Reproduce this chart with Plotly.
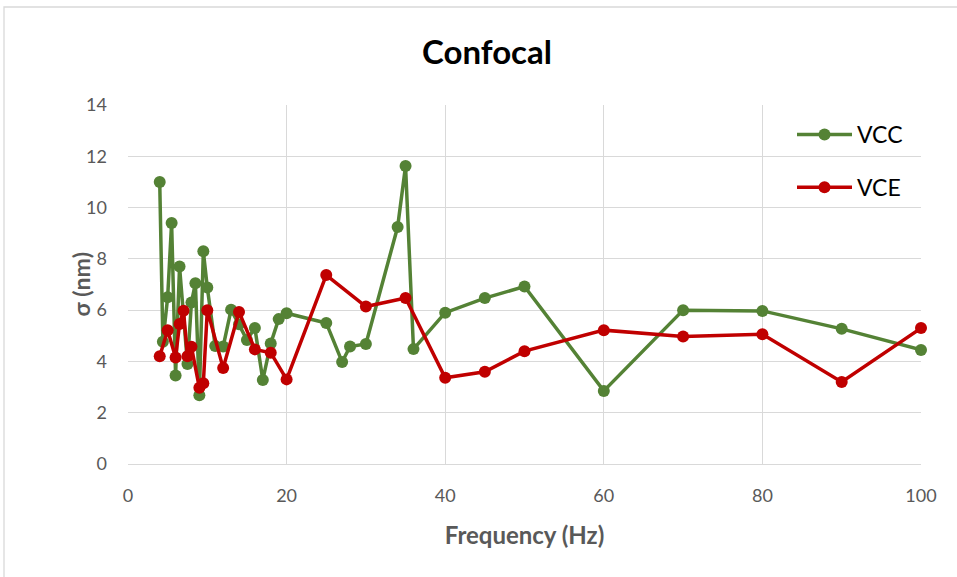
import plotly.graph_objects as go

# Frequency sweep (Hz) and measured sigma (nm) for each configuration
vcc_freq = [4, 4.4, 5, 5.5, 6, 6.5, 7.5, 8, 8.5, 9, 9.5, 10, 11, 12, 13, 14, 15,
            16, 17, 18, 19, 20, 25, 27, 28, 30, 34, 35, 36, 40, 45, 50, 60, 70,
            80, 90, 100]
vcc_sigma = [11.0, 4.77, 6.5, 9.4, 3.45, 7.7, 3.9, 6.3, 7.05, 2.68, 8.3, 6.88,
             4.6, 4.58, 6.02, 5.45, 4.84, 5.3, 3.28, 4.7, 5.65, 5.88, 5.5, 3.98,
             4.58, 4.68, 9.24, 11.62, 4.48, 5.9, 6.47, 6.92, 2.85, 6.0, 5.97,
             5.27, 4.45]

vce_freq = [4, 5, 6, 6.5, 7, 7.5, 8, 9, 9.5, 10, 12, 14, 16, 18, 20, 25, 30, 35,
            40, 45, 50, 60, 70, 80, 90, 100]
vce_sigma = [4.2, 5.22, 4.15, 5.46, 5.98, 4.2, 4.57, 2.97, 3.15, 6.0, 3.74, 5.93,
             4.47, 4.34, 3.3, 7.37, 6.14, 6.47, 3.36, 3.6, 4.4, 5.22, 4.97, 5.06,
             3.2, 5.3]

x_ticks = [0, 20, 40, 60, 80, 100]
y_ticks = [0, 2, 4, 6, 8, 10, 12, 14]

GREEN = "#548235"
RED = "#C00000"
GRID = "#D9D9D9"
TXT = "#595959"
FONT = "Lato"

fig = go.Figure()
fig.add_trace(go.Scatter(
    x=vcc_freq, y=vcc_sigma, name="VCC", mode="lines+markers",
    line=dict(color=GREEN, width=3.5),
    marker=dict(color=GREEN, size=12),
    legendgroup="a", cliponaxis=False,
))
fig.add_trace(go.Scatter(
    x=vce_freq, y=vce_sigma, name="VCE", mode="lines+markers",
    line=dict(color=RED, width=3.5),
    marker=dict(color=RED, size=12),
    legendgroup="b", cliponaxis=False,
))

W, H = 957, 577
L, R, T, B = 128, 36, 105, 113
pw = W - L - R
ph = H - T - B

fig.update_layout(
    width=W, height=H,
    margin=dict(l=L, r=R, t=T, b=B),
    paper_bgcolor="white", plot_bgcolor="white",
    font=dict(family=FONT, color=TXT, size=17),
    title=dict(text="<b>Confocal</b>", x=487 / W, xanchor="center",
               y=1 - 52 / H, yanchor="middle",
               font=dict(family=FONT, size=33, color="black")),
    xaxis=dict(range=[0, 100], tickvals=x_ticks, showgrid=True, gridcolor=GRID,
               gridwidth=1.3, zeroline=False, showline=True, linecolor=GRID,
               linewidth=1.3, ticks="", ticklabelstandoff=15,
               tickfont=dict(size=18, color=TXT),
               title=dict(text="<b>Frequency (Hz)</b>", standoff=22,
                          font=dict(size=24, color=TXT))),
    yaxis=dict(range=[0, 14], tickvals=y_ticks, showgrid=True, gridcolor=GRID,
               gridwidth=1.3, zeroline=False, ticks="", ticklabelstandoff=20,
               tickfont=dict(size=18, color=TXT)),
    legend=dict(x=(792 - L) / pw, y=(H - B - 113) / ph, xanchor="left",
                yanchor="top", bgcolor="rgba(0,0,0,0)",
                traceorder="grouped", tracegroupgap=20, itemwidth=55,
                font=dict(size=23, color="black", family=FONT)),
    showlegend=True,
)

# vertical axis title
fig.add_annotation(text="<b>σ (nm)</b>", textangle=-90, showarrow=False,
                   xref="paper", yref="paper", x=(80 - L) / pw, y=0.5,
                   xanchor="center", yanchor="middle",
                   font=dict(size=23, color=TXT, family=FONT))

# outer chart frame
fig.add_shape(type="rect", xref="paper", yref="paper",
              x0=(4 - L) / pw, x1=(W + 20 - L) / pw,
              y0=(H - B - (H + 20)) / ph, y1=(H - B - 7) / ph,
              line=dict(color=GRID, width=1.3), layer="below")

fig.write_html("out.html")
